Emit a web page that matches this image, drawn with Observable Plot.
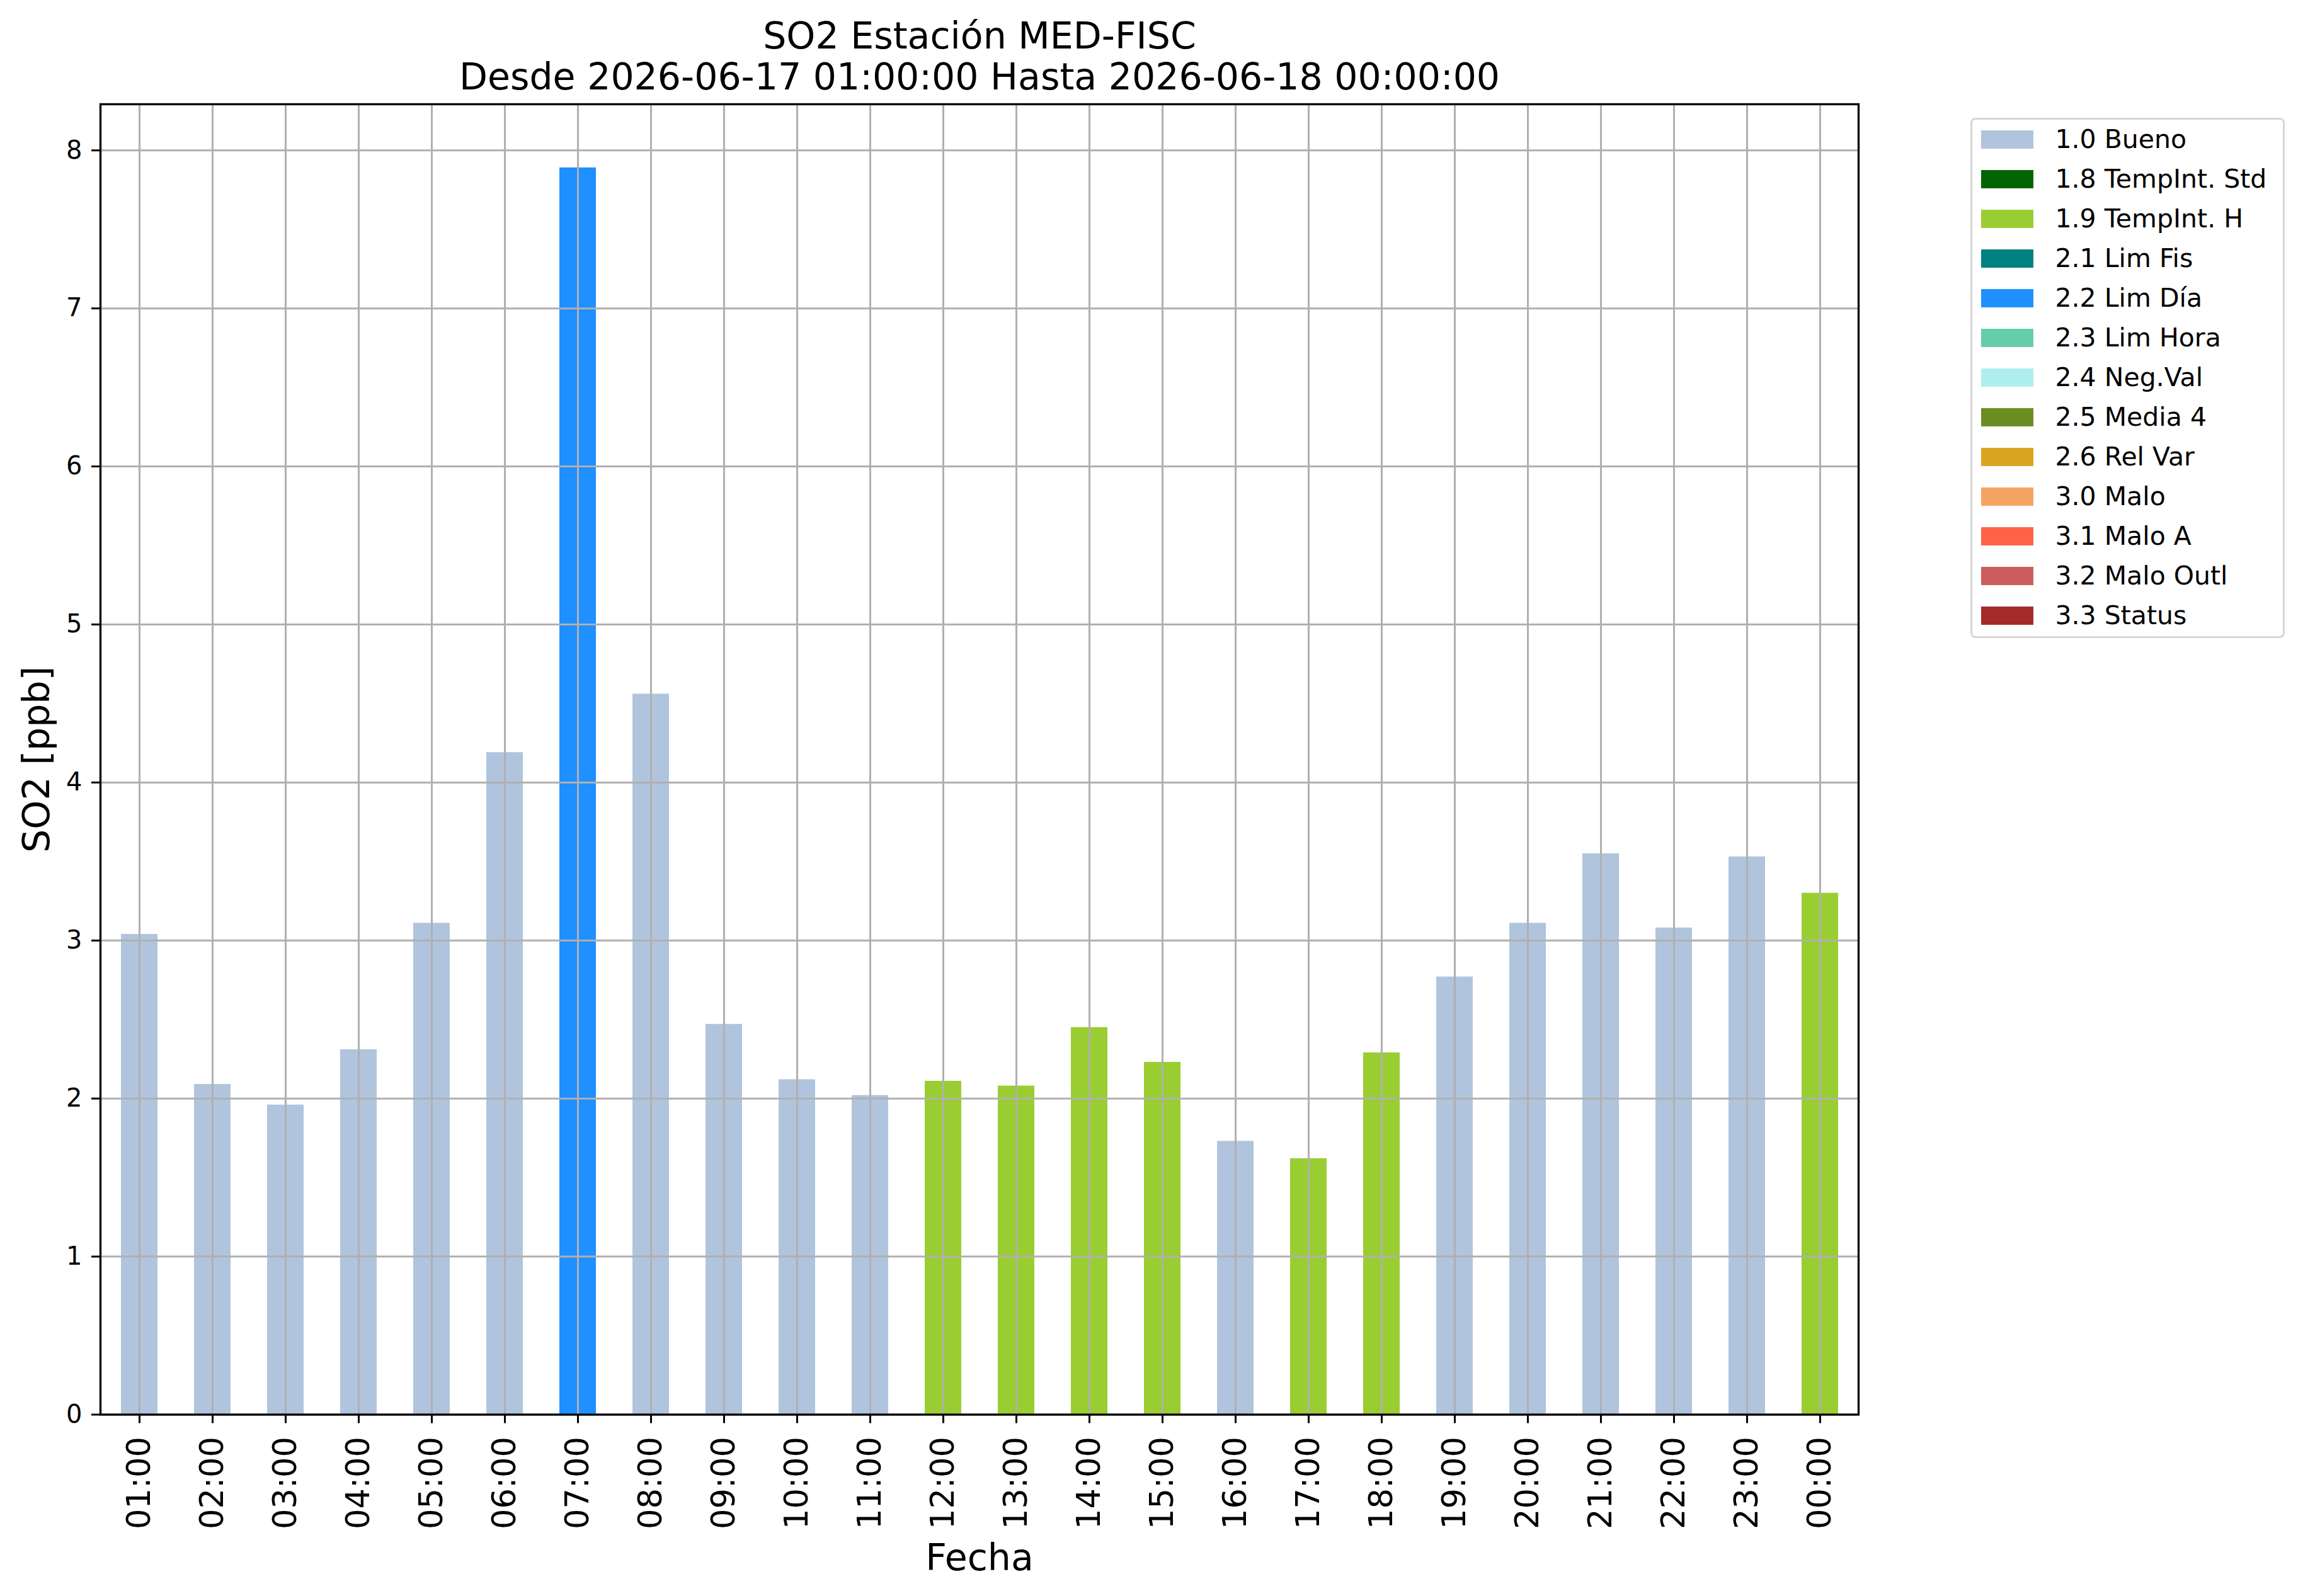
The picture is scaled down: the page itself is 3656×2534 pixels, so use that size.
<!DOCTYPE html>
<html>
<head>
<meta charset="utf-8">
<script src="https://cdn.jsdelivr.net/npm/d3@7"></script>
<script src="https://cdn.jsdelivr.net/npm/@observablehq/plot@0.6"></script>
<style>
html, body { margin: 0; padding: 0; background: #fff; }
#wrap { position: relative; width: 3656px; height: 2534px; font-family: "DejaVu Sans"; background: #fff; }
#chart { position: absolute; left: 0; top: 0; }
#legend { position: absolute; left: 3127.5px; top: 186.5px; width: 499px; box-sizing: border-box;
  border: 3.5px solid #d6d6d6; border-radius: 8px; padding: 0 0 1.5px 14px; background: #fff; }
.row { display: flex; align-items: center; height: 63px; }
.sw { width: 83px; height: 29px; flex: none; }
.lb { margin-left: 35px; font-size: 41px; line-height: 1; white-space: nowrap; color: #000; font-family: "DejaVu Sans"; }
</style>
</head>
<body>
<div id="wrap"><div id="chart"></div><div id="legend"></div></div>
<script>
// ---- data ----
const hours = ["01:00","02:00","03:00","04:00","05:00","06:00","07:00","08:00","09:00","10:00","11:00","12:00",
               "13:00","14:00","15:00","16:00","17:00","18:00","19:00","20:00","21:00","22:00","23:00","00:00"];
const values = [3.04, 2.09, 1.96, 2.31, 3.11, 4.19, 7.89, 4.56, 2.47, 2.12, 2.02, 2.11,
                2.08, 2.45, 2.23, 1.73, 1.62, 2.29, 2.77, 3.11, 3.55, 3.08, 3.53, 3.30];
const status = ["1.0 Bueno","1.0 Bueno","1.0 Bueno","1.0 Bueno","1.0 Bueno","1.0 Bueno","2.2 Lim Día","1.0 Bueno",
                "1.0 Bueno","1.0 Bueno","1.0 Bueno","1.9 TempInt. H","1.9 TempInt. H","1.9 TempInt. H","1.9 TempInt. H",
                "1.0 Bueno","1.9 TempInt. H","1.9 TempInt. H","1.0 Bueno","1.0 Bueno","1.0 Bueno","1.0 Bueno","1.0 Bueno",
                "1.9 TempInt. H"];
const legendLabels = ["1.0 Bueno","1.8 TempInt. Std","1.9 TempInt. H","2.1 Lim Fis","2.2 Lim Día","2.3 Lim Hora",
                      "2.4 Neg.Val","2.5 Media 4","2.6 Rel Var","3.0 Malo","3.1 Malo A","3.2 Malo Outl","3.3 Status"];
const legendColors = ["lightsteelblue","darkgreen","yellowgreen","teal","dodgerblue","mediumaquamarine",
                      "paleturquoise","olivedrab","goldenrod","sandybrown","tomato","indianred","brown"];
const yTicks = [0, 1, 2, 3, 4, 5, 6, 7, 8];
const yMax = 8.292;
const titleLines = ["SO2 Estación MED-FISC", "Desde 2026-06-17 01:00:00 Hasta 2026-06-18 00:00:00"];
const xLabel = "Fecha";
const yLabel = "SO2 [ppb]";

const data = hours.map((h, i) => ({hour: h, value: values[i], status: status[i]}));

const FONT = "DejaVu Sans";
const chart = Plot.plot({
  width: 3656,
  height: 2534,
  marginLeft: 159,
  marginRight: 706,
  marginTop: 165,
  marginBottom: 288.5,
  style: {fontFamily: FONT, fontSize: "40px", background: "transparent", color: "black", overflow: "visible"},
  x: {type: "band", domain: hours, paddingInner: 0.5, paddingOuter: 0.25, align: 0.5},
  y: {domain: [0, yMax]},
  color: {type: "ordinal", domain: legendLabels, range: legendColors},
  marks: [
    Plot.barY(data, {x: "hour", y: "value", fill: "status"}),
    Plot.gridX({stroke: "#b0b0b0", strokeOpacity: 1, strokeWidth: 3}),
    Plot.gridY(yTicks, {stroke: "#b0b0b0", strokeOpacity: 1, strokeWidth: 3}),
    Plot.frame({stroke: "black", strokeWidth: 3.3}),
    Plot.axisY(yTicks, {tickSize: 14, tickPadding: 15, fontSize: 40, fontFamily: FONT, strokeWidth: 3, label: null, tickFormat: d => String(d)}),
    Plot.axisX({tickRotate: -90, tickSize: 14, tickPadding: 21, fontSize: 51, fontFamily: FONT, strokeWidth: 3, label: null}),
    Plot.text([titleLines[0]], {text: d => d, frameAnchor: "top", lineAnchor: "middle", textAnchor: "middle", dy: -107.7, fontSize: 58.5, fontFamily: FONT}),
    Plot.text([titleLines[1]], {text: d => d, frameAnchor: "top", lineAnchor: "middle", textAnchor: "middle", dy: -42, fontSize: 58.5, fontFamily: FONT}),
    Plot.text([xLabel], {text: d => d, frameAnchor: "bottom", lineAnchor: "middle", textAnchor: "middle", dy: 227.8, fontSize: 58.5, fontFamily: FONT}),
    Plot.text([yLabel], {text: d => d, frameAnchor: "left", lineAnchor: "middle", textAnchor: "middle", rotate: -90, dx: -100.7, fontSize: 58.5, fontFamily: FONT})
  ]
});
document.getElementById("chart").appendChild(chart);

// ---- legend ----
const legend = document.getElementById("legend");
legendLabels.forEach((lab, i) => {
  const row = document.createElement("div");
  row.className = "row";
  const sw = document.createElement("div");
  sw.className = "sw";
  sw.style.background = legendColors[i];
  const lb = document.createElement("span");
  lb.className = "lb";
  lb.textContent = lab;
  row.appendChild(sw);
  row.appendChild(lb);
  legend.appendChild(row);
});
</script>
</body>
</html>
